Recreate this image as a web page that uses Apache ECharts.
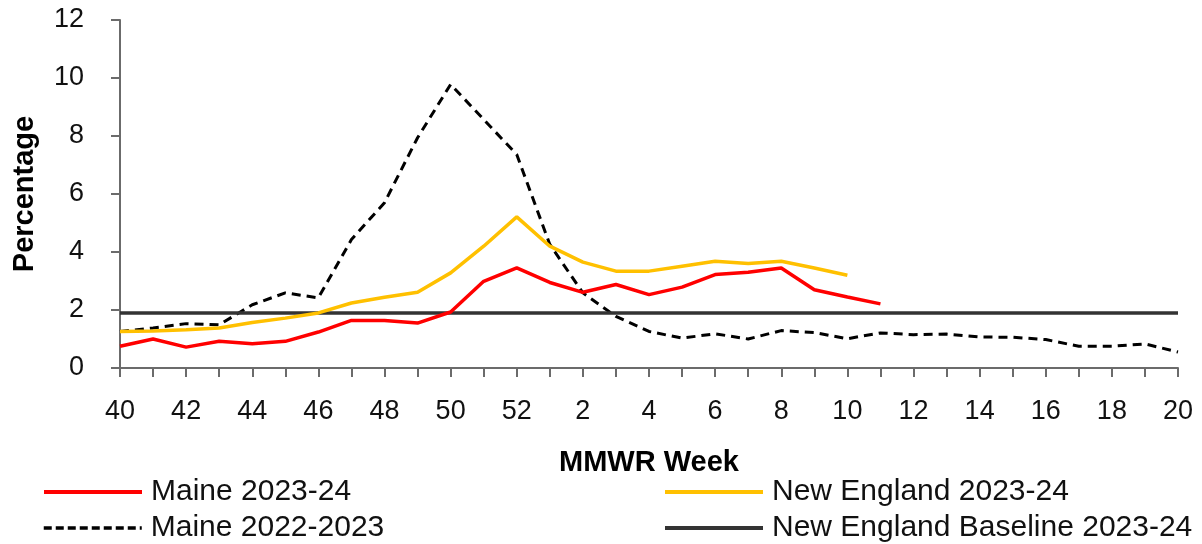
<!DOCTYPE html>
<html>
<head>
<meta charset="utf-8">
<script src="https://cdn.jsdelivr.net/npm/echarts@6/dist/echarts.min.js"></script>
<style>
html,body{margin:0;padding:0;background:#fff;}
#chart{width:1202px;height:544px;}
</style>
</head>
<body>
<div id="chart"></div>
<script>
var weeks = ['40','41','42','43','44','45','46','47','48','49','50','51','52',
  '1','2','3','4','5','6','7','8','9','10','11','12','13','14','15','16','17','18','19','20'];

var maine2324 = [0.75,1.0,0.72,0.92,0.84,0.92,1.24,1.64,1.64,1.55,1.93,2.99,3.45,
  2.95,2.61,2.88,2.53,2.79,3.22,3.30,3.45,2.70,2.45,2.21,null,null,null,null,null,null,null,null,null];

var newEngland2324 = [1.26,1.28,1.32,1.38,1.57,1.72,1.90,2.24,2.44,2.61,3.28,4.20,5.21,
  4.20,3.65,3.34,3.34,3.51,3.68,3.60,3.68,3.45,3.20,null,null,null,null,null,null,null,null,null,null];

var maine2223 = [1.26,1.38,1.53,1.49,2.18,2.59,2.42,4.43,5.70,7.94,9.78,8.57,7.36,
  4.26,2.59,1.78,1.26,1.03,1.18,1.00,1.29,1.22,1.01,1.21,1.15,1.17,1.07,1.06,0.98,0.75,0.75,0.83,0.55];

var baseline2324 = [1.9,1.9,1.9,1.9,1.9,1.9,1.9,1.9,1.9,1.9,1.9,1.9,1.9,
  1.9,1.9,1.9,1.9,1.9,1.9,1.9,1.9,1.9,1.9,1.9,1.9,1.9,1.9,1.9,1.9,1.9,1.9,1.9,1.9];

var yTicks = [0,2,4,6,8,10,12];

var chart = echarts.init(document.getElementById('chart'), null, {renderer:'canvas'});
var FONT = "'Liberation Sans', Arial, sans-serif";
var axisGray = '#6b6b6b';

function legendItem(name, left, top, dashed) {
  return {
    orient: 'horizontal', left: left, top: top,
    itemWidth: 98, itemHeight: 14, itemGap: 0,
    itemStyle: {opacity: 0},
    lineStyle: dashed ? {width: 3.5, type: [8, 4]} : {width: 4},
    textStyle: {fontFamily: FONT, fontSize: 30, color: '#111', lineHeight: 32, padding: [0,0,0,4]},
    data: [name]
  };
}

chart.setOption({
  animation: false,
  backgroundColor: '#fff',
  grid: {left: 120, right: 24, top: 20, bottom: 176, containLabel: false, outerBoundsMode: 'none'},
  xAxis: {
    type: 'category',
    data: weeks,
    boundaryGap: false,
    name: 'MMWR Week',
    nameLocation: 'middle',
    nameGap: 80,
    nameTextStyle: {fontFamily: FONT, fontSize: 29, fontWeight: 'bold', color: '#000'},
    axisLine: {show: true, lineStyle: {color: axisGray, width: 2}},
    axisTick: {show: true, interval: 0, alignWithLabel: true, length: 9, lineStyle: {color: axisGray, width: 2}},
    axisLabel: {interval: 1, margin: 30, fontFamily: FONT, fontSize: 27, color: '#111'},
    splitLine: {show: false}
  },
  yAxis: {
    type: 'value',
    min: yTicks[0],
    max: yTicks[yTicks.length - 1],
    interval: 2,
    name: 'Percentage',
    nameLocation: 'middle',
    nameGap: 81,
    nameRotate: 90,
    nameTextStyle: {fontFamily: FONT, fontSize: 29, fontWeight: 'bold', color: '#000'},
    axisLine: {show: true, lineStyle: {color: axisGray, width: 2}},
    axisTick: {show: true, length: 9, lineStyle: {color: axisGray, width: 2}},
    axisLabel: {margin: 36, fontFamily: FONT, fontSize: 27, color: '#111'},
    splitLine: {show: false}
  },
  legend: [
    legendItem('Maine 2023-24', 37, 471, false),
    legendItem('Maine 2022-2023', 37, 507, true),
    legendItem('New England 2023-24', 658, 471, false),
    legendItem('New England Baseline 2023-24', 658, 507, false)
  ],
  series: [
    {
      name: 'Maine 2022-2023', type: 'line', data: maine2223,
      symbol: 'none', z: 2,
      lineStyle: {color: '#000', width: 3, type: [9, 6]},
      itemStyle: {color: '#000'}
    },
    {
      name: 'New England Baseline 2023-24', type: 'line', data: baseline2324,
      symbol: 'none', z: 3,
      lineStyle: {color: '#333', width: 3.5},
      itemStyle: {color: '#333'}
    },
    {
      name: 'New England 2023-24', type: 'line', data: newEngland2324,
      symbol: 'none', z: 4,
      lineStyle: {color: '#FFC000', width: 3.5},
      itemStyle: {color: '#FFC000'}
    },
    {
      name: 'Maine 2023-24', type: 'line', data: maine2324,
      symbol: 'none', z: 5,
      lineStyle: {color: '#FF0000', width: 3.5},
      itemStyle: {color: '#FF0000'}
    }
  ]
});
</script>
</body>
</html>
